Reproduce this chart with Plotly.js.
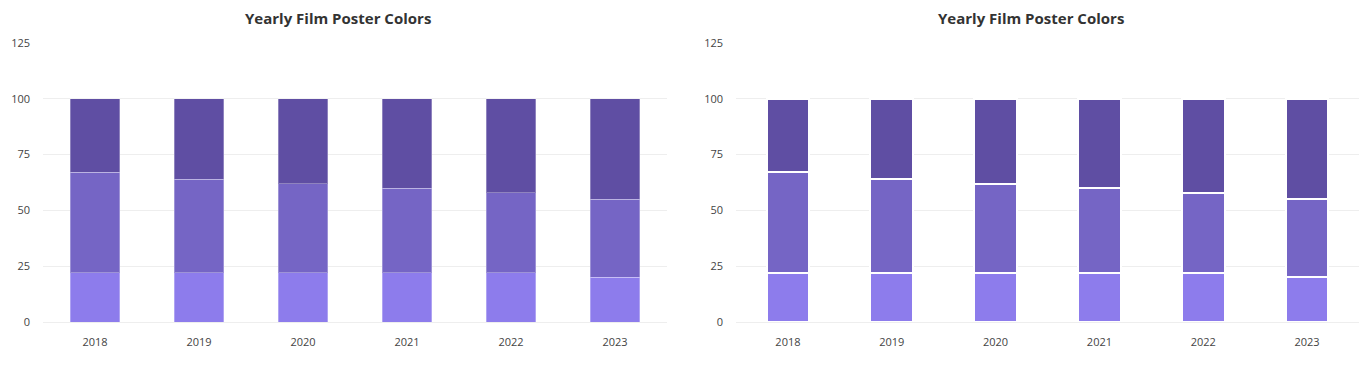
<!DOCTYPE html>
<html>
<head>
<meta charset="utf-8">
<script src="https://cdn.plot.ly/plotly-3.0.1.min.js"></script>
<style>html,body{margin:0;padding:0;background:#fff;}#chart{width:1367px;height:387px;}</style>
</head>
<body>
<div id="chart"></div>
<script>
const years = ['2018', '2019', '2020', '2021', '2022', '2023'];
const bottomValues = [22, 22, 22, 22, 22, 20];
const middleValues = [45, 42, 40, 38, 36, 35];
const topValues = [33, 36, 38, 40, 42, 45];
const yTicks = [0, 25, 50, 75, 100, 125];
const chartTitle = 'Yearly Film Poster Colors';

const colors = ['#8d7cec', '#7565c5', '#5f4ea3'];
const series = [bottomValues, middleValues, topValues];
const names = ['Light', 'Medium', 'Dark'];

const traces = [];
series.forEach((vals, i) => {
  traces.push({
    type: 'bar', x: years, y: vals, name: names[i], xaxis: 'x', yaxis: 'y',
    width: 0.48,
    marker: {color: colors[i], line: {color: 'rgba(255,255,255,0.3)', width: 1}},
    showlegend: false
  });
});
series.forEach((vals, i) => {
  traces.push({
    type: 'bar', x: years, y: vals, name: names[i], xaxis: 'x2', yaxis: 'y2',
    width: 0.41,
    marker: {color: colors[i], line: {color: '#ffffff', width: 2}},
    showlegend: false
  });
});

const W = 1367, H = 387;
const yDom = [(H - 322) / H, (H - 43) / H];
const font = {family: 'Open Sans, sans-serif', size: 11, color: '#444'};
const yax = {
  range: [0, 125], tickvals: yTicks, showgrid: true, gridcolor: '#eeeeee', gridwidth: 1,
  zeroline: false, showline: false, ticks: '', ticklabelstandoff: 12,
  tickfont: {family: 'Open Sans, sans-serif', size: 11, color: '#444'}, fixedrange: true
};
const xax = {
  type: 'category', showgrid: false, zeroline: false, showline: true, linecolor: '#eeeeee', linewidth: 1,
  ticks: '', ticklabelstandoff: 10, range: [-0.5, 5.5],
  tickfont: {family: 'Open Sans, sans-serif', size: 11, color: '#444'}
};

const layout = {
  width: W, height: H,
  margin: {l: 0, r: 0, t: 0, b: 0},
  paper_bgcolor: '#ffffff', plot_bgcolor: '#ffffff',
  barmode: 'stack', font: font,
  xaxis: Object.assign({}, xax, {domain: [43 / W, 667 / W], anchor: 'y'}),
  yaxis: Object.assign({}, yax, {domain: yDom, anchor: 'x'}),
  xaxis2: Object.assign({}, xax, {domain: [736 / W, 1359 / W], anchor: 'y2'}),
  yaxis2: Object.assign({}, yax, {domain: yDom, anchor: 'x2'}),
  annotations: [
    {text: '<b>' + chartTitle + '</b>', xref: 'paper', yref: 'paper', x: 338 / W, y: (H - 18) / H,
     xanchor: 'center', yanchor: 'middle', showarrow: false,
     font: {family: 'Open Sans, sans-serif', size: 15, color: '#333'}},
    {text: '<b>' + chartTitle + '</b>', xref: 'paper', yref: 'paper', x: 1031 / W, y: (H - 18) / H,
     xanchor: 'center', yanchor: 'middle', showarrow: false,
     font: {family: 'Open Sans, sans-serif', size: 15, color: '#333'}}
  ]
};

Plotly.newPlot('chart', traces, layout, {displayModeBar: false, staticPlot: true});
</script>
</body>
</html>
